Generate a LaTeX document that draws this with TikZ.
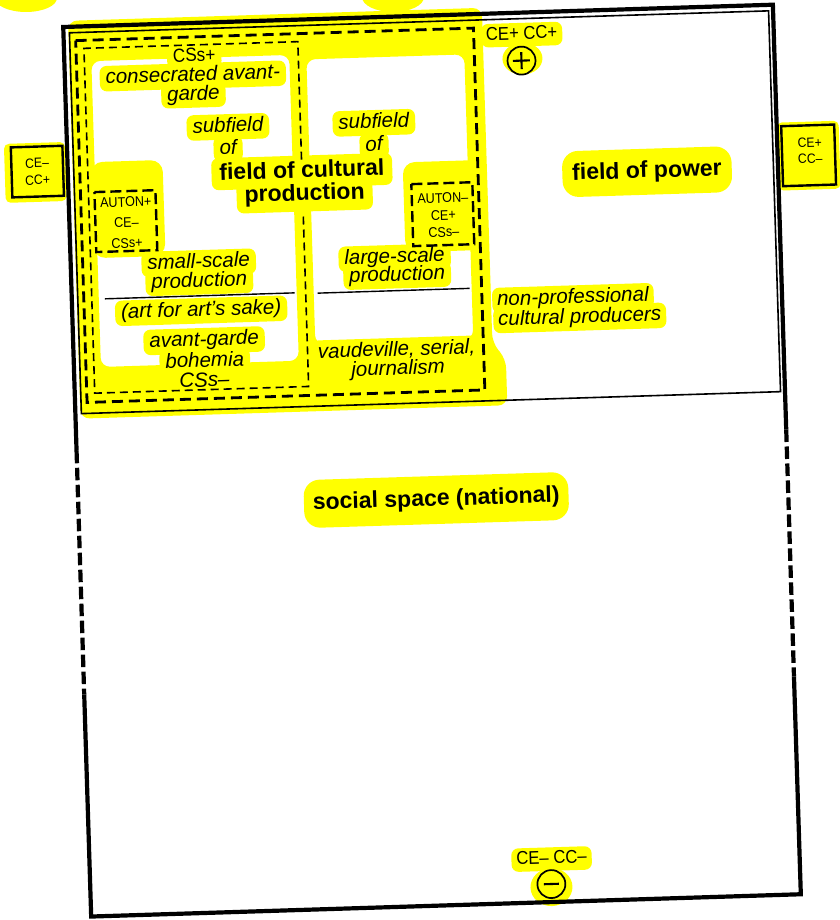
\documentclass[tikz,border=0pt]{standalone}
\usepackage{fontspec}
\setmainfont{Liberation Sans}
\newfontfamily\condfont[FakeStretch=0.9]{Liberation Sans}
\definecolor{hlyellow}{RGB}{255,255,0}
\pgfdeclarelayer{hl}
\pgfdeclarelayer{lines}
\pgfsetlayers{hl,lines,main}
\newcommand\hltext[4][]{%
  \begin{pgfonlayer}{hl}\node[txt,#1,fill=hlyellow] (hl-#2) at (#3) {\phantom{#4}};\end{pgfonlayer}%
  \node[txt,#1,text height={},text depth={},inner sep=0pt,anchor=base] (#2) at (hl-#2.base) {#4};}
\begin{document}
\begin{tikzpicture}[x=1pt,y=-1pt,
  txt/.style={inner xsep=6pt, inner ysep=3pt, rounded corners=7pt},
  it/.style={font=\fontsize{20.5}{24}\selectfont\itshape, text height=15pt, text depth=4.5pt},
  bf/.style={font=\fontsize{23}{27}\selectfont\bfseries, text height=17pt, text depth=5pt},
  up/.style={font=\condfont\fontsize{19}{22}\selectfont, text height=13.5pt, text depth=4pt},
  upm/.style={font=\condfont\fontsize{18.5}{22}\selectfont, text height=13.5pt, text depth=4pt},
  sm/.style={font=\condfont\fontsize{14}{16}\selectfont, inner sep=0pt},
  smb/.style={font=\condfont\fontsize{13.5}{15}\selectfont, inner sep=0pt},
  sidebox/.style={draw, line width=2.4pt, fill=hlyellow, inner sep=0pt},
  sframe/.style={line width=4.2pt},
  fline/.style={line width=1.6pt},
  bolddash/.style={line width=2.8pt, dash pattern=on 11pt off 6pt},
  thindash/.style={line width=1.6pt, dash pattern=on 8pt off 5pt},
  boxdash/.style={line width=2.4pt, dash pattern=on 11pt off 5pt},
  framedash/.style={line width=4.2pt, dash pattern=on 12.5pt off 4.5pt},
  ring/.style={circle, draw, line width=1.7pt, minimum size=28pt, inner sep=0pt}
]
\useasboundingbox (0,0) rectangle (839,920);
\begin{pgfonlayer}{hl}
\fill[hlyellow] (26,-2) ellipse [x radius=31pt, y radius=14pt];
\fill[hlyellow] (393,-3) ellipse [x radius=31pt, y radius=15pt];
\end{pgfonlayer}

\begin{scope}[rotate around={1.8:(420,460)}, transform shape]
% ---------- highlighter ----------
\begin{pgfonlayer}{hl}
\fill[hlyellow, even odd rule, rounded corners=9pt]
  (82,10) -- (496,10) -- (496,345) -- (509,362) -- (509,408) -- (82,408) -- cycle
  (104,51) -- (302,51) -- (302,357) -- (104,357) -- cycle
  (319,56) -- (477,56) -- (477,341) -- (319,341) -- cycle;
\fill[hlyellow, rounded corners=12pt] (100,152) -- (172,152) -- (172,248) -- (100,248) -- cycle;
\fill[hlyellow, rounded corners=12pt] (412,162) -- (492,162) -- (492,252) -- (412,252) -- cycle;
\fill[hlyellow, rounded corners=5pt] (14,131) -- (75,131) -- (75,190) -- (14,190) -- cycle;
\fill[hlyellow, rounded corners=5pt] (787,134) -- (849,134) -- (849,202) -- (787,202) -- cycle;
\fill[hlyellow] (535,62) ellipse [x radius=20pt, y radius=16pt];
\fill[hlyellow] (538,891) ellipse [x radius=21pt, y radius=19pt];
\end{pgfonlayer}

% ---------- lines ----------
\begin{pgfonlayer}{lines}
\draw[sframe] (77,440) -- (77,16) -- (787,16) -- (787,441);
\draw[framedash] (77,440) -- (77,684);
\draw[framedash] (787,441) -- (787,688);
\draw[sframe] (77,684) -- (77,906) -- (787,906) -- (787,688);
\draw[fline] (83,22) -- (782.5,22) -- (782.5,403) -- (83,403) -- cycle;
\draw[bolddash] (89,30) -- (487,30) -- (487,392) -- (89,392) -- cycle;
\draw[thindash] (311,156) -- (311,38) -- (97,38) -- (97,383) -- (311,383) -- (311,209);
\draw[boxdash] (103,182) -- (164,182) -- (164,242) -- (103,242) -- cycle;
\draw[boxdash] (420,184) -- (481,184) -- (481,246) -- (420,246) -- cycle;
\draw[line width=1.4pt] (110,289) -- (300,289);
\draw[line width=1.4pt] (323,290) -- (475,290);
\end{pgfonlayer}

% ---------- texts ----------
\hltext[up]{cssp}{207,50}{CSs+}
\hltext[it]{consec}{205,69}{consecrated avant-}
\hltext[it]{garde}{205,88}{garde}
\hltext[it]{subL}{238.5,121}{subfield}
\hltext[it]{ofL}{238,143}{of}
\hltext[it]{subR}{384.5,121.5}{subfield}
\hltext[it]{ofR}{384,144.5}{of}
\hltext[bf,inner xsep=8pt,inner ysep=5pt]{fcpa}{311,168}{field of cultural}
\hltext[bf,inner xsep=8pt,inner ysep=6pt]{fcpb}{313,191}{production}
\hltext[it]{sspa}{205,256}{small-scale}
\hltext[it]{sspb}{205,275}{production}
\hltext[it]{artsake}{206,304}{(art for art's sake)}
\hltext[it]{avg}{208,334}{avant-garde}
\hltext[it]{boh}{208,355}{bohemia}
\hltext[it]{cssm}{207,375}{CSs–}
\hltext[it]{lspa}{401,257}{large-scale}
\hltext[it]{lspb}{403,275}{production}
\hltext[it]{vaud}{400,350}{vaudeville, serial,}
\hltext[it]{journ}{401,369}{journalism}
\hltext[it,anchor=west,inner xsep=5pt]{nproa}{497,303}{non-professional}
\hltext[it,anchor=west,inner xsep=5pt]{nprob}{497.5,323}{cultural producers}
\hltext[bf,inner xsep=10pt,inner ysep=12pt,rounded corners=16pt]{fpow}{656,179}{field of power}
\hltext[bf,inner xsep=9pt,inner ysep=13pt,rounded corners=16pt]{soc}{435,500.5}{social space (national)}
\hltext[upm,inner xsep=5pt]{cepp}{535,38}{CE+ CC+}
\hltext[upm,inner xsep=5pt]{cemm}{539,863}{CE– CC–}

\node[ring] (plus) at (534,64) {};
\draw[line width=2.1pt] ([xshift=-8.5pt]plus.center) -- ([xshift=8.5pt]plus.center)
  ([yshift=-8.5pt]plus.center) -- ([yshift=8.5pt]plus.center);
\node[ring] (minus) at (538,888) {};
\draw[line width=2.1pt] ([xshift=-7.5pt]minus.center) -- ([xshift=7.5pt]minus.center);

\node[sm] (aLa) at (134,193) {AUTON+};
\node[sm] (aLb) at (134,213.5) {CE–};
\node[sm] (aLc) at (134,234) {CSs+};
\node[sm] (aRa) at (451,199) {AUTON–};
\node[sm] (aRb) at (451,216) {CE+};
\node[sm] (aRc) at (451,233) {CSs–};

\node[sidebox, minimum width=51.6pt, minimum height=50pt] (boxL) at (46.6,159.7) {};
\node[smb] (boxLa) at (46.6,151.2) {CE–};
\node[smb] (boxLb) at (46.6,168.2) {CC+};
\node[sidebox, minimum width=53pt, minimum height=60pt] (boxR) at (818,167.7) {};
\node[smb] (boxRa) at (819.5,155.2) {CE+};
\node[smb] (boxRb) at (819.5,171.2) {CC–};
\end{scope}
\end{tikzpicture}
\end{document}
